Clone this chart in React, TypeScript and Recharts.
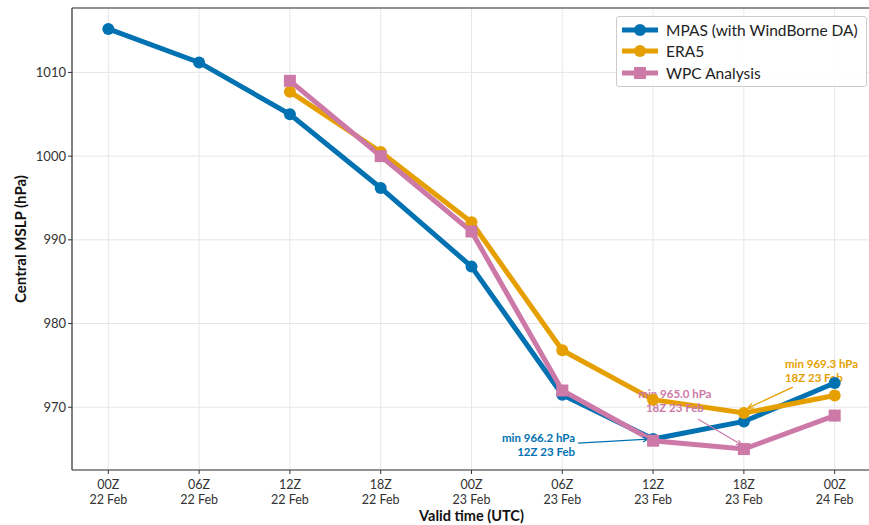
import React from 'react';
import {
  LineChart, Line, XAxis, YAxis, CartesianGrid, Legend, Label, ReferenceDot, ReferenceLine,
} from 'recharts';

const timeLabels = ['00Z', '06Z', '12Z', '18Z', '00Z', '06Z', '12Z', '18Z', '00Z'];
const dateLabels = ['22 Feb', '22 Feb', '22 Feb', '22 Feb', '23 Feb', '23 Feb', '23 Feb', '23 Feb', '24 Feb'];
const mpasValues = [1015.2, 1011.2, 1005.0, 996.2, 986.8, 971.5, 966.2, 968.3, 972.9];
const era5Values = [null, null, 1007.7, 1000.5, 992.1, 976.8, 970.9, 969.3, 971.4];
const wpcValues = [null, null, 1009.0, 1000.0, 991.0, 972.0, 966.0, 965.0, 969.0];
const yTicks = [970, 980, 990, 1000, 1010];

const BLUE = '#0072B2';
const ORANGE = '#E69F00';
const PINK = '#CC79A7';
const FONT = 'Lato, "DejaVu Sans", sans-serif';

const data = timeLabels.map((t, i) => ({
  idx: i,
  mpas: mpasValues[i],
  era5: era5Values[i],
  wpc: wpcValues[i],
}));

const series = [
  { key: 'mpas', name: 'MPAS (with WindBorne DA)', color: BLUE, square: false },
  { key: 'era5', name: 'ERA5', color: ORANGE, square: false },
  { key: 'wpc', name: 'WPC Analysis', color: PINK, square: true },
];

const XTick = ({ x, y, payload }: any) => (
  <g transform={`translate(${x},${y})`}>
    <text textAnchor="middle" fontSize={12.5} fill="#333" fontFamily={FONT}>
      <tspan x={0} dy={13}>{timeLabels[payload.value]}</tspan>
      <tspan x={0} dy={15}>{dateLabels[payload.value]}</tspan>
    </text>
  </g>
);

const SquareDot = ({ cx, cy, stroke }: any) => {
  if (cx == null || cy == null) return null;
  return <rect x={cx - 6} y={cy - 6} width={12} height={12} fill={stroke} />;
};

const CircleDot = ({ cx, cy, stroke }: any) => {
  if (cx == null || cy == null) return null;
  return <circle cx={cx} cy={cy} r={6} fill={stroke} />;
};

// annotation: text block + thin arrow, offsets relative to the data point
const makeNote = (color: string, lines: string[], anchor: string, tx: number, ty: number, from: number[], to: number[]) =>
  ({ cx, cy }: any) => {
    const x1 = cx + from[0], y1 = cy + from[1];
    const x2 = cx + to[0], y2 = cy + to[1];
    const ang = Math.atan2(y2 - y1, x2 - x1);
    const h = 6;
    const a1 = [x2 - h * Math.cos(ang - 0.45), y2 - h * Math.sin(ang - 0.45)];
    const a2 = [x2 - h * Math.cos(ang + 0.45), y2 - h * Math.sin(ang + 0.45)];
    return (
      <g>
        <text x={cx + tx} y={cy + ty + 3} textAnchor={anchor} fontSize={11.5} fontWeight={700} fill={color} fontFamily={FONT}>
          {lines[0]}
        </text>
        <text x={cx + tx} y={cy + ty + 17} textAnchor={anchor} fontSize={11.5} fontWeight={700} fill={color} fontFamily={FONT}>
          {lines[1]}
        </text>
        <line x1={x1} y1={y1} x2={x2} y2={y2} stroke={color} strokeWidth={1.2} />
        <polyline points={`${a1[0]},${a1[1]} ${x2},${y2} ${a2[0]},${a2[1]}`} fill="none" stroke={color} strokeWidth={1.2} />
      </g>
    );
  };

const LegendBox = () => (
  <div style={{
    border: '1px solid #ccc', borderRadius: 3, background: 'rgba(255,255,255,0.85)',
    padding: '2px 8px 2px 3px', fontFamily: FONT, fontSize: 15.5, color: '#222',
  }}>
    {series.map((s) => (
      <div key={s.key} style={{ display: 'flex', alignItems: 'center', height: 21.5 }}>
        <svg width={40} height={16} style={{ marginRight: 6 }}>
          <line x1={2} y1={8} x2={38} y2={8} stroke={s.color} strokeWidth={5} />
          {s.square
            ? <rect x={14} y={2} width={12} height={12} fill={s.color} />
            : <circle cx={20} cy={8} r={6} fill={s.color} />}
        </svg>
        <span>{s.name}</span>
      </div>
    ))}
  </div>
);

export default function App() {
  return (
    <div style={{ position: 'absolute', left: 0, top: 0, width: 869, height: 525, overflow: 'hidden', background: '#fff' }}>
      <LineChart width={871} height={525} data={data} margin={{ top: 8, right: 0, left: 12, bottom: 0 }}>
        <CartesianGrid stroke="#e6e6e6" strokeWidth={1} />
        <XAxis
          dataKey="idx" type="number" domain={[-0.4, 8.4]} ticks={[0, 1, 2, 3, 4, 5, 6, 7, 8]}
          allowDataOverflow height={55} tick={<XTick />} tickSize={4}
          axisLine={{ stroke: '#333', strokeWidth: 1.2 }} tickLine={{ stroke: '#333' }}
        >
          <Label value="Valid time (UTC)" position="insideBottom" offset={4}
            style={{ fontFamily: FONT, fontSize: 14.5, fontWeight: 700, fill: '#111' }} />
        </XAxis>
        <YAxis
          domain={[962.5, 1017.7]} ticks={yTicks} allowDataOverflow width={60} tickSize={4}
          tick={{ fontSize: 13, fill: '#333', fontFamily: FONT }}
          axisLine={{ stroke: '#333', strokeWidth: 1.2 }} tickLine={{ stroke: '#333' }}
        >
          <Label
            content={({ viewBox }: any) => (
              <text
                x={viewBox.x + 8} y={viewBox.y + viewBox.height / 2}
                transform={`rotate(-90, ${viewBox.x + 8}, ${viewBox.y + viewBox.height / 2})`}
                textAnchor="middle" dominantBaseline="central"
                fontFamily={FONT} fontSize={15} fontWeight={700} fill="#111"
              >Central MSLP (hPa)</text>
            )}
          />
        </YAxis>
        <ReferenceLine y={1017.7} stroke="#333" strokeWidth={1.2} ifOverflow="visible" />
        <ReferenceDot x={6} y={mpasValues[6]} ifOverflow="visible"
          shape={makeNote(BLUE, ['min 966.2 hPa', '12Z 23 Feb'], 'end', -78, 0, [-75, 4], [-5, 0])} />
        <ReferenceDot x={7} y={wpcValues[7]} ifOverflow="visible"
          shape={makeNote(PINK, ['min 965.0 hPa', '18Z 23 Feb'], 'middle', -69, -54, [-46, -30], [-2, -4])} />
        <ReferenceDot x={7} y={era5Values[7]} ifOverflow="visible"
          shape={makeNote(ORANGE, ['min 969.3 hPa', '18Z 23 Feb'], 'start', 41, -48, [49, -26], [4, -5])} />
        {series.map((s) => (
          <Line
            key={s.key} dataKey={s.key} name={s.name} stroke={s.color} strokeWidth={5}
            dot={s.square ? <SquareDot /> : <CircleDot />} activeDot={false}
            isAnimationActive={false} connectNulls={false}
          />
        ))}
        <Legend
          layout="horizontal" verticalAlign="middle" align="center"
          wrapperStyle={{ left: 616, top: 16, width: 'auto', height: 'auto' }}
          content={() => <LegendBox />}
        />
      </LineChart>
    </div>
  );
}
